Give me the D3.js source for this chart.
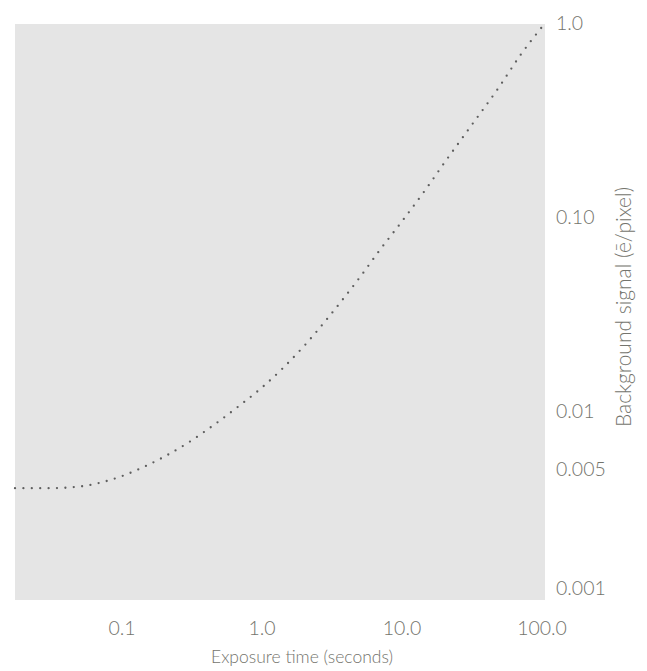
<!DOCTYPE html>
<html>
<head>
<meta charset="utf-8">
<script src="https://cdn.jsdelivr.net/npm/d3@7"></script>
<style>
  html, body { margin: 0; padding: 0; background: #ffffff; }
  svg { display: block; }
  text { font-family: Lato, "Open Sans", sans-serif; font-weight: 300; fill: #74746d; }
</style>
</head>
<body>
<svg id="chart" width="647" height="671"></svg>
<script>
// ---- data ----
const exposure = [0.0172, 0.03, 0.05, 0.07, 0.1, 0.15, 0.2, 0.3, 0.5, 0.7, 1, 2, 3, 5, 7, 10, 15, 20, 30, 50, 70, 105];
const signal   = [0.0040, 0.0040, 0.00408, 0.00427, 0.00462, 0.00523, 0.00581, 0.0069, 0.00893, 0.01074, 0.01322, 0.02166, 0.03059, 0.0489, 0.0681, 0.095, 0.141, 0.1896, 0.2842, 0.474, 0.682, 0.997];
const xTicks = [0.1, 1, 10, 100];
const xTickLabels = ["0.1", "1.0", "10.0", "100.0"];
const yTicks = [1, 0.1, 0.01, 0.005, 0.001];
const yTickLabels = ["1.0", "0.10", "0.01", "0.005", "0.001"];
const xTitle = "Exposure time (seconds)";
const yTitle = "Background signal (ē/pixel)";

// ---- layout ----
const plot = { left: 15, top: 24, right: 545, bottom: 600 };

const x = d3.scaleLog().domain([0.0172, 105]).range([plot.left, plot.right]);
const y = d3.scaleLog().domain([0.001, 1]).range([605, 23]);

const svg = d3.select("#chart");

svg.append("rect")
  .attr("x", plot.left).attr("y", plot.top)
  .attr("width", plot.right - plot.left)
  .attr("height", plot.bottom - plot.top)
  .attr("fill", "#e5e5e5");

const pts = exposure.map((t, i) => [t, signal[i]]);
const line = d3.line()
  .x(d => x(d[0]))
  .y(d => y(d[1]))
  .curve(d3.curveMonotoneX);

svg.append("path")
  .datum(pts)
  .attr("d", line)
  .attr("fill", "none")
  .attr("stroke", "#5e5e5e")
  .attr("stroke-width", 2.3)
  .attr("stroke-linecap", "round")
  .attr("stroke-dasharray", "0,8.4");

// x tick labels
svg.append("g").selectAll("text")
  .data(xTicks)
  .join("text")
  .attr("x", d => x(d))
  .attr("y", 635)
  .attr("text-anchor", "middle")
  .attr("font-size", 19.5)
  .text((d, i) => xTickLabels[i]);

// y tick labels
svg.append("g").selectAll("text")
  .data(yTicks)
  .join("text")
  .attr("x", 556)
  .attr("y", d => Math.min(y(d), plot.bottom - 12))
  .attr("dy", "0.35em")
  .attr("text-anchor", "start")
  .attr("font-size", 19.5)
  .text((d, i) => yTickLabels[i]);

// axis titles
svg.append("text")
  .attr("x", (plot.left + plot.right) / 2 + 22)
  .attr("y", 663)
  .attr("text-anchor", "middle")
  .attr("font-size", 17.5)
  .text(xTitle);

svg.append("text")
  .attr("transform", `translate(631, 307) rotate(-90)`)
  .attr("text-anchor", "middle")
  .attr("font-size", 21)
  .text(yTitle);
</script>
</body>
</html>
